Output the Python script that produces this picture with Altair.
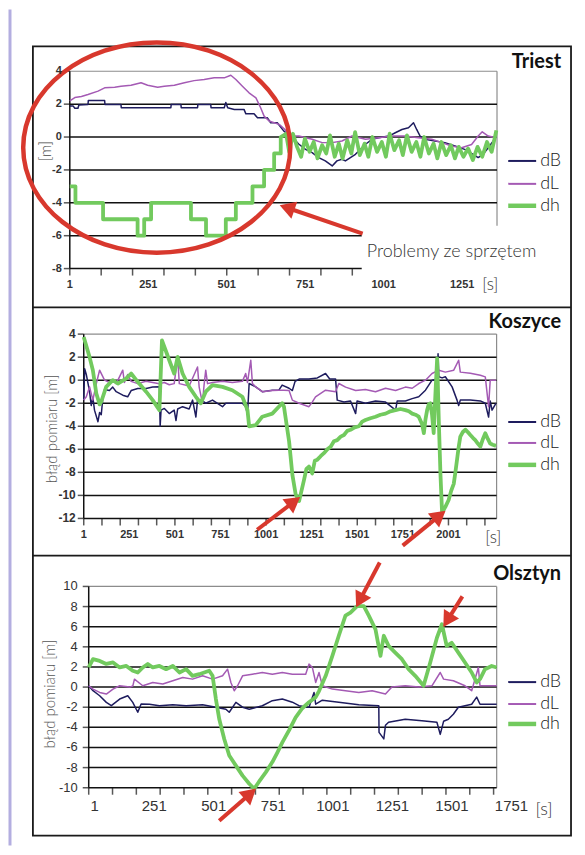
import altair as alt
import pandas as pd

SERIES = ["dB", "dL", "dh"]
COLORS = ["#1e1c5e", "#a45ab4", "#72ca5e"]
WIDTHS = [1.5, 1.5, 3.8]
RED = "#d8382d"

# ---------------- Triest ----------------
TRIEST_DB = [(1,1.88),(12,1.88),(17,1.75),(27,1.75),(30,1.95),(59,1.98),(60,2.22),(112,2.22),(113,1.98),
             (164,1.98),(165,1.78),(323,1.78),(324,1.98),(355,1.98),(356,1.78),(408,1.78),(409,1.98),
             (450,1.98),(451,1.78),(493,1.78),(498,2.1),(504,1.78),(525,1.68),(556,1.68),(562,1.41),
             (588,1.41),(599,1.17),(630,1.17),(641,0.87),(662,0.87),(683,0.36),(705,0.06),(731,-0.44),
             (752,-0.75),(773,-0.95),(794,-1.25),(815,-1.45),(837,-1.76),(852,-1.45),(868,-1.35),
             (879,-1.45),(895,-1.25),(911,-1.05),(927,-0.75),(943,-0.44),(964,-0.14),(985,-0.04),
             (1017,0.06),(1038,0.26),(1059,0.46),(1080,0.57),(1096,0.87),(1106,0.46),(1117,0.06),
             (1133,-0.14),(1164,-0.24),(1196,-0.34),(1228,-0.55),(1259,-0.75),(1286,-1.05),
             (1302,-1.25),(1318,-1.05),(1334,-0.65),(1350,-0.24),(1360,0.06)]
TRIEST_DL = [(1,2.2),(17,2.4),(38,2.47),(59,2.59),(91,2.79),(112,2.99),(144,3.03),(164,3.09),(196,3.15),
             (228,3.3),(249,3.15),(281,3.03),(302,3.09),(334,3.15),(366,3.3),(397,3.43),(429,3.5),
             (461,3.6),(493,3.6),(514,3.76),(530,3.5),(551,3.09),(572,2.69),(594,2.38),(609,1.78),
             (620,1.27),(636,0.97),(652,0.87),(668,0.77),(684,0.5),(705,0.06),(731,0.06),(773,-0.14),
             (805,-0.34),(837,-0.34),(868,-0.24),(900,0.06),(943,-0.14),(985,-0.04),(1027,0.06),
             (1069,0.06),(1111,-0.04),(1154,-0.14),(1186,-0.34),(1217,-0.55),(1249,-0.65),
             (1281,-0.45),(1302,0.06),(1315,0.32),(1334,0.06),(1360,-0.04)]
TRIEST_DH = [(1,-3),(19,-3),(19,-4),(107,-4),(107,-5),(217,-5),(217,-6),(238,-6),(238,-5),(260,-5),
             (260,-4),(387,-4),(387,-5),(435,-5),(435,-6),(498,-6),(498,-5),(530,-5),(530,-4),
             (583,-4),(583,-3),(620,-3),(620,-2),(652,-2),(652,-1),(673,-1),(673,0),(690,0.2),
             (700,-0.9),(712,0.2),(725,-0.6),(738,-1.2),(750,-0.1),(765,-0.9),(778,-0.3),(790,-1.3),
             (805,-0.5),(818,-1.0),(830,0.1),(845,-1.2),(858,-0.4),(870,-1.3),(885,-0.2),(898,-1.0),
             (910,0.3),(925,-1.1),(940,-0.4),(952,-1.2),(965,0.0),(980,-0.9),(995,-0.3),(1008,-1.2),
             (1020,0.2),(1035,-0.8),(1050,-0.2),(1062,-1.1),(1075,0.1),(1090,-0.9),(1105,-0.3),
             (1118,-1.2),(1130,0.0),(1145,-1.0),(1160,-0.4),(1172,-1.3),(1185,-0.3),(1200,-1.1),
             (1215,-0.5),(1228,-1.3),(1240,-0.6),(1255,-1.2),(1270,-0.7),(1285,-1.4),(1300,-0.6),
             (1315,-1.2),(1330,-0.3),(1345,-0.9),(1360,0.4)]

# ---------------- Koszyce ----------------
KOSZYCE_DB = [(1,-1.73),(6,1.0),(15,0.5),(33,-1.0),(42,-2.2),(51,-1.5),(60,-2.6),(79,-3.6),(88,-2.8),
              (97,-3.0),(106,-1.5),(115,-0.8),(142,-0.9),(160,-0.6),(179,-1.0),(215,-1.3),(242,-1.44),
              (261,-0.9),(297,-0.72),(343,-0.72),(379,-0.6),(416,-0.58),(420,-4.0),(425,-2.6),
              (443,-2.45),(470,-2.9),(497,-2.6),(507,-3.5),(516,-2.5),(543,-2.3),(579,-2.5),(598,-1.73),
              (616,-3.2),(625,-1.73),(652,-1.8),(670,-2.0),(707,-1.73),(762,-2.3),(780,-2.0),(816,-2.0),
              (871,-2.0),(889,-2.3),(899,-3.0),(908,-0.29),(944,-0.58),(980,-1.0),(1035,-0.87),
              (1071,-0.87),(1089,-0.43),(1127,-0.7),(1145,-0.9),(1160,-0.1),(1182,0.1),(1236,0.1),
              (1282,0.2),(1327,0.58),(1350,0.1),(1382,0.1),(1391,-1.73),(1428,-1.9),(1464,-1.8),
              (1492,-2.9),(1500,-1.8),(1546,-2.0),(1601,-1.8),(1656,-1.9),(1711,-2.6),(1720,-1.8),
              (1765,-1.8),(1802,-1.6),(1838,-1.44),(1875,-0.87),(1911,0.0),(1939,0.1),(1944,2.3),
              (1948,0.3),(1966,0.2),(1984,0.3),(2021,-0.58),(2048,-1.73),(2057,-2.2),(2066,-1.73),
              (2121,-1.73),(2176,-1.8),(2203,-2.0),(2221,-3.2),(2230,-1.8),(2240,-2.6),(2262,-2.0)]
KOSZYCE_DL = [(1,-1.73),(15,-1.44),(33,-0.58),(51,-1.73),(70,-0.29),(88,0.87),(115,0.0),(142,-0.2),
              (160,0.0),(179,-0.3),(215,0.87),(224,-0.2),(242,0.5),(261,-0.1),(297,-0.3),(343,-0.1),
              (379,-0.2),(416,-0.3),(443,-0.2),(470,-0.4),(497,-0.3),(516,2.0),(525,-0.3),(579,-0.5),
              (625,1.15),(634,-0.6),(652,-2.0),(661,-0.4),(670,0.87),(680,-0.3),(707,-0.2),(762,-0.1),
              (816,-0.2),(871,-0.1),(889,0.58),(899,-0.2),(917,1.73),(926,-0.3),(944,-0.58),
              (980,-1.0),(1035,-0.9),(1071,-0.87),(1099,-0.87),(1127,-0.9),(1145,-1.73),(1182,-2.0),
              (1236,-2.3),(1254,-1.9),(1272,-1.44),(1327,-0.87),(1382,-1.0),(1400,-0.29),(1437,-0.6),
              (1492,-0.9),(1546,-0.8),(1601,-1.0),(1656,-0.7),(1711,-0.9),(1765,-0.6),(1802,-0.7),
              (1838,-0.29),(1875,0.0),(1911,0.58),(1948,0.87),(1984,0.7),(2030,0.87),(2057,1.73),
              (2066,0.7),(2121,0.6),(2176,0.43),(2203,0.29),(2221,-2.3),(2230,0.0),(2262,0.0)]
KOSZYCE_DH = [(1,3.75),(33,2.0),(51,0.87),(70,-1.15),(88,-2.1),(97,-1.87),(124,-0.58),(160,0.0),
              (188,-0.29),(233,0.14),(261,0.58),(297,-0.14),(343,-1.0),(379,-1.73),(416,-2.6),
              (430,3.46),(450,2.6),(470,1.73),(497,0.58),(516,2.02),(543,0.58),(579,-0.58),(616,-1.44),
              (643,-2.0),(670,-1.0),(707,-0.43),(762,-0.58),(816,-0.87),(871,-1.44),(899,-2.6),
              (908,-4.0),(944,-3.9),(980,-3.17),(1035,-2.9),(1089,-2.0),(1099,-2.3),(1127,-5.3),
              (1145,-8.2),(1163,-9.9),(1182,-10.5),(1209,-8.65),(1222,-7.7),(1236,-7.5),(1254,-8.1),
              (1268,-7.0),(1282,-6.9),(1300,-6.6),(1318,-6.34),(1337,-6.0),(1355,-5.77),(1373,-5.3),
              (1391,-5.2),(1410,-4.9),(1428,-4.76),(1446,-4.4),(1464,-4.3),(1487,-4.1),(1510,-4.0),
              (1528,-3.6),(1546,-3.46),(1573,-3.3),(1601,-3.17),(1628,-3.0),(1656,-2.9),(1683,-2.7),
              (1711,-2.6),(1738,-2.5),(1765,-2.6),(1784,-2.7),(1802,-2.9),(1820,-3.0),(1838,-3.17),
              (1856,-3.8),(1866,-4.6),(1875,-3.4),(1884,-2.6),(1893,-2.1),(1902,-2.0),(1911,-3.0),
              (1920,-4.6),(1930,-1.0),(1939,1.9),(1948,-3.5),(1957,-8.1),(1966,-11.5),(1984,-11.0),
              (2002,-10.4),(2016,-9.6),(2030,-9.0),(2039,-8.0),(2048,-6.9),(2057,-5.8),(2066,-4.9),
              (2080,-4.5),(2094,-4.3),(2107,-4.5),(2121,-4.76),(2135,-5.0),(2148,-5.2),(2162,-5.5),
              (2176,-5.77),(2190,-5.1),(2203,-4.6),(2217,-5.1),(2230,-5.5),(2244,-5.6),(2262,-5.7)]

# ---------------- Olsztyn ----------------
OLSZTYN_DB = [(1,0.13),(19,-0.36),(47,-0.86),(75,-1.52),(96,-1.85),(131,-1.19),(165,-0.86),(186,-1.52),
              (207,-2.5),(221,-1.68),(256,-1.7),(298,-1.85),(354,-1.75),(410,-1.85),(479,-1.75),
              (535,-2.0),(577,-2.2),(591,-2.5),(619,-1.52),(647,-2.0),(675,-2.2),(730,-1.85),
              (772,-1.35),(814,-1.19),(856,-1.5),(884,-1.85),(926,-2.0),(947,-0.53),(954,-1.7),
              (982,-1.3),(1051,-1.5),(1135,-1.75),(1219,-1.85),(1220,-4.5),(1240,-5.15),(1247,-3.8),
              (1260,-3.5),(1330,-3.2),(1400,-3.35),(1463,-3.5),(1477,-4.7),(1491,-3.4),(1511,-3.2),
              (1532,-2.7),(1553,-2.0),(1609,-1.7),(1630,-1.0),(1644,-1.7),(1714,-1.7)]
OLSZTYN_DL = [(1,0.13),(19,-0.2),(47,-0.53),(75,-0.69),(103,-0.2),(131,0.13),(173,0.0),(186,0.1),
              (193,0.79),(228,0.13),(270,0.46),(312,0.3),(354,0.63),(396,0.96),(437,0.79),(479,1.12),
              (521,0.79),(563,1.12),(584,1.78),(598,0.46),(612,-0.36),(626,0.13),(647,1.12),(688,1.28),
              (730,1.45),(772,1.28),(814,1.45),(856,1.28),(912,1.28),(926,2.28),(940,1.95),(954,0.46),
              (968,1.45),(982,0.13),(1024,-0.2),(1079,-0.36),(1135,-0.53),(1191,-0.36),(1247,-0.69),
              (1274,0.0),(1330,0.13),(1386,0.0),(1442,0.13),(1477,1.45),(1491,0.79),(1532,0.63),
              (1581,0.13),(1609,-0.36),(1637,1.95),(1644,0.13),(1714,0.13)]
OLSZTYN_DH = [(1,1.95),(19,2.77),(47,2.6),(75,2.3),(103,2.45),(131,1.95),(159,2.1),(186,1.62),(207,1.45),
              (228,1.95),(249,2.3),(270,1.95),(298,2.1),(326,1.78),(354,2.1),(382,1.45),(410,1.78),
              (437,1.12),(465,1.28),(486,1.45),(507,1.62),(521,1.12),(535,-1.19),(549,-3.17),
              (570,-5.15),(591,-6.8),(619,-7.8),(647,-8.8),(675,-9.6),(696,-10.1),(716,-9.4),
              (745,-8.45),(772,-7.45),(793,-6.5),(814,-5.5),(842,-4.3),(870,-3.0),(898,-2.1),
              (926,-1.5),(954,-1.0),(968,-0.4),(996,1.12),(1024,3.1),(1051,5.1),(1079,7.1),(1100,7.4),
              (1128,8.05),(1156,8.05),(1177,7.1),(1205,5.74),(1226,3.1),(1240,5.1),(1260,4.1),
              (1288,3.43),(1316,2.77),(1344,1.78),(1372,1.12),(1407,0.13),(1435,2.44),(1463,4.9),
              (1484,6.24),(1504,4.1),(1525,4.4),(1553,3.43),(1581,2.44),(1609,1.45),(1630,0.46),
              (1644,0.8),(1665,1.78),(1693,2.1),(1714,1.95)]

TRIEST_YLAB = [4, 2, 0, -2, -4, -6, -8]
KOSZYCE_YLAB = [4, 2, 0, -2, -4, -6, -8, -10, -12]
OLSZTYN_YLAB = [10, 8, 6, 4, 2, 0, -2, -4, -6, -8, -10]
TRIEST_XLAB = [1, 251, 501, 751, 1001, 1251]
KOSZYCE_XLAB = [1, 251, 501, 751, 1001, 1251, 1501, 1751, 2001]
OLSZTYN_XLAB = [1, 251, 501, 751, 1001, 1251, 1501, 1751]

# annotations: (tail t, tail v, head t, head v, head angle)
TRIEST_ARROWS = [(934, -5.88, 693, -4.30, 289)]
KOSZYCE_ARROWS = [(952, -12.98, 1154, -10.55, 53), (1750, -14.36, 1952, -11.76, 51)]
OLSZTYN_ARROWS = [(549, -13.27, 679, -10.59, 49), (1223, 12.38, 1139, 8.61, 208),
                  (1570, 9.01, 1507, 6.63, 212)]
ELLIPSE = ("M -1 0 C -1 -0.435 -0.552 -0.787 0 -0.787 C 0.552 -0.787 1 -0.435 1 0 "
           "C 1 0.435 0.552 0.787 0 0.787 C -0.552 0.787 -1 0.435 -1 0 Z")

TICK_FONT = "Liberation Sans"
TEXT_FONT = "Lato"


def pts_df(points):
    return pd.DataFrame({"t": [p[0] for p in points], "v": [p[1] for p in points],
                         "i": list(range(len(points)))})


def panel(p):
    xs = alt.Scale(domain=p["xdom"], nice=False, zero=False)
    ys = alt.Scale(domain=p["ydom"], nice=False, zero=False)

    def X(f):
        return alt.X(f, type="quantitative", scale=xs, axis=None)

    def Y(f):
        return alt.Y(f, type="quantitative", scale=ys, axis=None)

    L = []
    t_end, top, bottom = p["t_end"], p["top"], p["bottom"]
    frame = pd.DataFrame({"t0": [1, t_end], "t1": [t_end, t_end], "v0": [top, top], "v1": [top, bottom]})
    L.append(alt.Chart(frame).mark_rule(color="#8c8c8c", strokeWidth=1.2).encode(
        x=X("t0"), x2="t1", y=Y("v0"), y2="v1"))
    grid = pd.DataFrame({"v": p["ylab"][1:], "t0": 1, "t1": t_end})
    L.append(alt.Chart(grid).mark_rule(color="#111", strokeWidth=1.5).encode(
        x=X("t0"), x2="t1", y=Y("v")))
    yax = pd.DataFrame({"t": [1], "v0": [bottom], "v1": [top]})
    L.append(alt.Chart(yax).mark_rule(color="#111", strokeWidth=1.5).encode(
        x=X("t"), y=Y("v0"), y2="v1"))
    xt = pd.DataFrame({"t": list(range(1, t_end, 100)), "v": bottom})
    L.append(alt.Chart(xt).mark_tick(orient="vertical", size=7, thickness=1.5, color="#111",
                                     yOffset=3.5).encode(x=X("t"), y=Y("v")))
    yt = pd.DataFrame({"t": 1, "v": p["ylab"]})
    L.append(alt.Chart(yt).mark_tick(orient="horizontal", size=6, thickness=1.5, color="#111",
                                     xOffset=-3).encode(x=X("t"), y=Y("v")))
    for name, col, w in zip(SERIES, COLORS, WIDTHS):
        L.append(alt.Chart(pts_df(p["data"][name])).mark_line(
            color=col, strokeWidth=w, strokeJoin="round").encode(x=X("t"), y=Y("v"), order="i:Q"))
    for lay in p.get("extra", []):
        L.append(lay(X, Y))
    yl = pd.DataFrame({"t": 1, "v": p["ylab"], "lab": [str(v) for v in p["ylab"]]})
    L.append(alt.Chart(yl).mark_text(align="right", baseline="middle", color="#333",
                                     font=TICK_FONT, **p["ystyle"]).encode(
        x=X("t"), y=Y("v"), text="lab:N"))
    xl = pd.DataFrame({"t": p["xlab"], "v": bottom, "lab": [str(v) for v in p["xlab"]]})
    L.append(alt.Chart(xl).mark_text(align="center", baseline="middle", color="#333",
                                     font=TICK_FONT, **p["xstyle"]).encode(
        x=X("t"), y=Y("v"), text="lab:N"))
    for (t0, v0, t1, v1, ang) in p["arrows"]:
        a = pd.DataFrame({"t0": [t0], "v0": [v0], "t1": [t1], "v1": [v1]})
        L.append(alt.Chart(a).mark_rule(color=RED, strokeWidth=4).encode(
            x=X("t0"), y=Y("v0"), x2="t1", y2="v1"))
        L.append(alt.Chart(a).mark_point(shape="triangle-up", filled=True, color=RED, opacity=1,
                                         size=320, angle=ang).encode(x=X("t1"), y=Y("v1")))
    return alt.layer(*L)


def white_box(X, Y):
    d = pd.DataFrame({"t0": [931], "t1": [1588], "v0": [-5.4], "v1": [-8.5]})
    return alt.Chart(d).mark_rect(color="white").encode(x=X("t0"), x2="t1", y=Y("v0"), y2="v1")


def ellipse(X, Y):
    d = pd.DataFrame({"t": [278], "v": [-0.64]})
    return alt.Chart(d).mark_point(shape=ELLIPSE, size=71824, filled=False, color=RED,
                                   strokeWidth=4.5, opacity=1).encode(x=X("t"), y=Y("v"))


P1 = dict(data={"dB": TRIEST_DB, "dL": TRIEST_DL, "dh": TRIEST_DH},
          xdom=[-116.5, 1597.8], ydom=[-42.48, 5.515], t_end=1362, top=4, bottom=-8,
          ylab=TRIEST_YLAB, xlab=TRIEST_XLAB, arrows=TRIEST_ARROWS,
          xstyle=dict(fontSize=11, fontWeight="bold", dy=16),
          ystyle=dict(fontSize=11, fontWeight="bold", dx=-8),
          extra=[white_box, ellipse])
P2 = dict(data={"dB": KOSZYCE_DB, "dL": KOSZYCE_DL, "dh": KOSZYCE_DH},
          xdom=[-277.7, 2673.1], ydom=[-39.53, 28.98], t_end=2265, top=4, bottom=-12,
          ylab=KOSZYCE_YLAB, xlab=KOSZYCE_XLAB, arrows=KOSZYCE_ARROWS,
          xstyle=dict(fontSize=11, fontWeight="bold", dy=17),
          ystyle=dict(fontSize=12, fontWeight="bold", dx=-8))
P3 = dict(data={"dB": OLSZTYN_DB, "dL": OLSZTYN_DL, "dh": OLSZTYN_DH},
          xdom=[-233.3, 2026.1], ydom=[-14.752, 63.66], t_end=1714, top=10, bottom=-10,
          ylab=OLSZTYN_YLAB, xlab=OLSZTYN_XLAB, arrows=OLSZTYN_ARROWS,
          xstyle=dict(fontSize=15, dy=18, dx=6),
          ystyle=dict(fontSize=13, dx=-11))

one = pd.DataFrame({"k": [0]})


def txt(s, x, y, **kw):
    return alt.Chart(one).mark_text(text=s, **kw).encode(x=alt.value(x), y=alt.value(y))


deco = [
    alt.Chart(one).mark_rule(color="#b3aee0", strokeWidth=3).encode(
        x=alt.value(-23), y=alt.value(-37), y2=alt.value(802)),
    alt.Chart(one).mark_rule(color="#1a1a1a", strokeWidth=1.8).encode(
        x=alt.value(0), x2=alt.value(540), y=alt.value(262)),
    alt.Chart(one).mark_rule(color="#1a1a1a", strokeWidth=1.8).encode(
        x=alt.value(0), x2=alt.value(540), y=alt.value(511)),
]
for title, ty in [("Triest", 16), ("Koszyce", 277), ("Olsztyn", 530)]:
    deco.append(txt(title, 530, ty, align="right", baseline="middle", font=TEXT_FONT,
                    fontSize=20, fontWeight="bold", color="#111"))
for ys_ in [(115, 138, 160), (377, 398, 420), (638, 660, 680)]:
    for name, col, w, ly in zip(SERIES, COLORS, [2, 2, 4.5], ys_):
        deco.append(alt.Chart(one).mark_rule(color=col, strokeWidth=w).encode(
            x=alt.value(477), x2=alt.value(505), y=alt.value(ly)))
        deco.append(txt(name, 509, ly, align="left", baseline="middle", font=TEXT_FONT,
                        fontSize=18, fontWeight=300, color="#222"))
deco.append(txt("[m]", 13, 105, angle=270, align="center", baseline="middle", font=TEXT_FONT,
                fontSize=15, fontWeight=300, color="#444"))
deco.append(txt("błąd pomiaru [m]", 19, 384, angle=270, align="center", baseline="middle",
                font=TEXT_FONT, fontSize=15, fontWeight=300, color="#555"))
deco.append(txt("błąd pomiaru [m]", 17, 650, angle=270, align="center", baseline="middle",
                font=TEXT_FONT, fontSize=15, fontWeight=300, color="#555"))
for sx, sy, fs in [(459, 240, 17), (462, 493, 17), (513, 766, 18)]:
    deco.append(txt("[s]", sx, sy, align="center", baseline="middle", font=TEXT_FONT,
                    fontSize=fs, fontWeight=300, color="#333"))
deco.append(txt("Problemy ze sprzętem", 335, 206, align="left", baseline="middle", font=TEXT_FONT,
                fontSize=18, fontWeight=300, color="#333"))

chart = alt.layer(panel(P1), panel(P2), panel(P3), *deco).resolve_scale(
    x="independent", y="independent"
).properties(
    width=540, height=792,
    autosize=alt.AutoSizeParams(type="none"),
    padding={"left": 25, "top": 37, "right": 6, "bottom": 12},
    background="white",
).configure_view(stroke="#1a1a1a", strokeWidth=1.8)

chart.save("out.html", embed_options={"renderer": "svg", "actions": False})
